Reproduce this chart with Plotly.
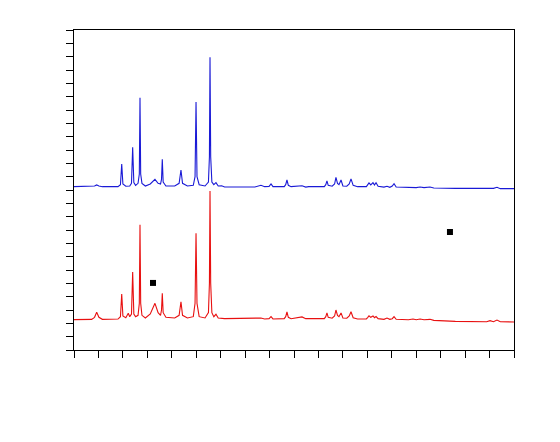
import plotly.graph_objects as go

# Blue pattern (upper trace)
blue_x = [5.0, 6.8, 7.1, 7.32, 7.55, 7.9, 9.5, 9.75, 9.88, 10.0, 10.3, 10.7, 10.88, 11.0, 11.12,
          11.3, 11.55, 11.68, 11.75, 11.82, 11.95, 12.3, 12.8, 13.28, 13.6, 13.85, 13.95, 14.03,
          14.12, 14.4, 15.3, 15.75, 15.94, 16.1, 16.6, 17.2, 17.38, 17.48, 17.58, 17.8, 18.4,
          18.75, 18.85, 18.91, 18.98, 19.1, 19.3, 19.52, 19.75, 20.1, 20.4, 23.5, 24.12, 24.5,
          24.95, 25.15, 25.35, 26.5, 26.65, 26.78, 26.92, 27.2, 28.32, 28.7, 29.0, 30.6, 30.75,
          30.87, 31.0, 31.4, 31.65, 31.79, 31.95, 32.1, 32.31, 32.5, 32.9, 33.15, 33.33, 33.55,
          34.0, 34.9, 35.05, 35.17, 35.35, 35.58, 35.73, 35.89, 36.1, 36.7, 37.01, 37.3, 37.55,
          37.73, 37.95, 39.2, 39.67, 40.0, 40.39, 40.8, 41.41, 41.8, 44.0, 47.2, 47.55, 47.9,
          48.26, 48.6, 50.0]
blue_y = [12.25, 12.25, 12.3, 12.38, 12.3, 12.25, 12.25, 12.4, 13.95, 12.45, 12.28, 12.3, 12.5,
          15.2, 12.55, 12.35, 12.5, 13.2, 18.92, 13.2, 12.5, 12.3, 12.45, 12.8, 12.5, 12.45, 12.8,
          14.3, 12.6, 12.3, 12.3, 12.5, 13.5, 12.5, 12.3, 12.35, 13.0, 18.6, 13.0, 12.4, 12.3,
          12.6, 14.5, 21.95, 14.5, 12.6, 12.4, 12.55, 12.3, 12.32, 12.22, 12.22, 12.35, 12.25,
          12.27, 12.45, 12.25, 12.25, 12.4, 12.75, 12.35, 12.25, 12.32, 12.22, 12.25, 12.25, 12.4,
          12.68, 12.35, 12.28, 12.45, 12.95, 12.5, 12.4, 12.75, 12.3, 12.28, 12.45, 12.83, 12.35,
          12.25, 12.25, 12.4, 12.53, 12.38, 12.55, 12.38, 12.55, 12.28, 12.22, 12.28, 12.2, 12.3,
          12.47, 12.22, 12.18, 12.22, 12.18, 12.22, 12.18, 12.22, 12.15, 12.12, 12.12, 12.17, 12.12,
          12.2, 12.1, 12.1]

# Red pattern (lower trace)
red_x = [5.0, 6.8, 7.1, 7.32, 7.55, 7.9, 9.5, 9.75, 9.88, 10.0, 10.3, 10.55, 10.7, 10.88, 11.0,
         11.12, 11.3, 11.55, 11.68, 11.75, 11.82, 11.95, 12.3, 12.8, 13.28, 13.6, 13.85, 13.95,
         14.03, 14.12, 14.4, 15.3, 15.75, 15.94, 16.1, 16.6, 17.2, 17.38, 17.48, 17.58, 17.8,
         18.4, 18.75, 18.85, 18.91, 18.98, 19.1, 19.3, 19.52, 19.75, 20.4, 23.5, 24.12, 24.5,
         24.95, 25.15, 25.35, 26.5, 26.65, 26.78, 26.92, 27.2, 28.32, 28.7, 30.6, 30.75, 30.87,
         31.0, 31.4, 31.65, 31.79, 31.95, 32.1, 32.31, 32.5, 32.9, 33.15, 33.33, 33.55, 34.0,
         34.9, 35.05, 35.17, 35.35, 35.58, 35.73, 35.89, 36.1, 36.7, 37.01, 37.3, 37.55, 37.73,
         37.95, 39.2, 39.67, 40.0, 40.39, 40.8, 41.41, 41.8, 44.0, 47.2, 47.55, 47.9, 48.26,
         48.6, 50.0]
red_y = [2.28, 2.3, 2.45, 2.83, 2.45, 2.3, 2.32, 2.5, 4.2, 2.55, 2.42, 2.75, 2.5, 2.7, 5.85,
         2.7, 2.5, 2.6, 3.5, 9.4, 3.5, 2.6, 2.4, 2.7, 3.5, 2.8, 2.6, 3.0, 4.25, 2.8, 2.45, 2.4,
         2.6, 3.62, 2.6, 2.4, 2.5, 3.5, 8.75, 3.5, 2.5, 2.4, 2.8, 5.0, 11.93, 5.0, 2.8, 2.5,
         2.68, 2.4, 2.35, 2.35, 2.4, 2.33, 2.35, 2.5, 2.33, 2.35, 2.5, 2.85, 2.45, 2.35, 2.48,
         2.35, 2.35, 2.5, 2.78, 2.45, 2.38, 2.55, 3.0, 2.6, 2.5, 2.78, 2.4, 2.38, 2.55, 2.87,
         2.42, 2.33, 2.33, 2.45, 2.57, 2.45, 2.55, 2.42, 2.51, 2.35, 2.3, 2.4, 2.3, 2.35, 2.5,
         2.3, 2.27, 2.32, 2.27, 2.32, 2.27, 2.3, 2.22, 2.15, 2.12, 2.2, 2.12, 2.25, 2.12, 2.1]

# Marker squares (legend symbols whose text is not shown)
marker_x = [13.08, 43.45]
marker_y = [5.03, 8.85]

fig = go.Figure()
fig.add_trace(go.Scatter(x=blue_x, y=blue_y, mode="lines",
                         line=dict(color="#1a1ad6", width=1.1), showlegend=False))
fig.add_trace(go.Scatter(x=red_x, y=red_y, mode="lines",
                         line=dict(color="#e81010", width=1.1), showlegend=False))
fig.add_trace(go.Scatter(x=marker_x, y=marker_y, mode="markers",
                         marker=dict(symbol="square", size=6, color="black"),
                         showlegend=False))

axis_common = dict(showgrid=False, zeroline=False, showline=True, linecolor="black",
                   linewidth=1.2, mirror=True, ticks="outside", ticklen=7,
                   tickcolor="black", tickwidth=1, showticklabels=False)

fig.update_layout(
    width=560, height=442,
    margin=dict(l=66, r=54, t=22, b=100),
    paper_bgcolor="white", plot_bgcolor="white",
    xaxis=dict(range=[5, 50], tick0=5, dtick=2.5, **axis_common),
    yaxis=dict(range=[0, 24], tick0=0, dtick=1, **axis_common),
)

fig.write_html("out.html")
